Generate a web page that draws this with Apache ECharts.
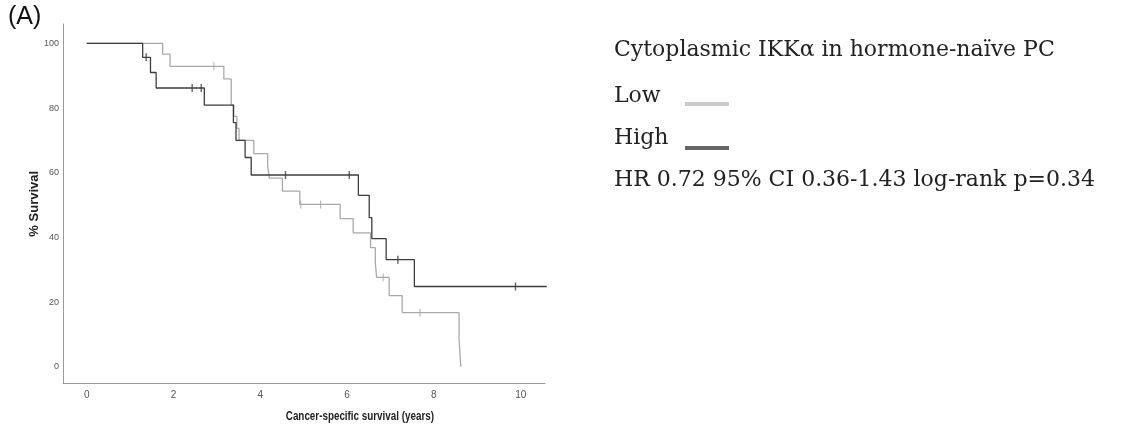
<!DOCTYPE html>
<html>
<head>
<meta charset="utf-8">
<script src="https://cdn.jsdelivr.net/npm/echarts@6/dist/echarts.min.js"></script>
<style>
html,body{margin:0;padding:0;background:#fff;}
#chart{width:1121px;height:433px;}
</style>
</head>
<body>
<div id="chart"></div>
<script>
// ---- Data ----
var highTimes = [0, 1.29, 1.47, 1.60, 2.71, 3.38, 3.44, 3.65, 3.79, 6.26, 6.51, 6.57, 6.90, 7.55, 10.6];
var highSurv  = [100, 95.7, 91.0, 86.2, 80.9, 75.5, 70.0, 64.7, 59.3, 53.0, 46.1, 39.6, 33.1, 24.8, 24.8];
var highCensorTimes = [1.37, 2.43, 2.64, 4.58, 6.05, 7.17, 9.88];
var highCensorSurv  = [95.7, 86.2, 86.2, 59.3, 59.3, 33.1, 24.8];

var lowTimes = [0, 1.75, 1.92, 3.16, 3.33, 3.39, 3.46, 3.51, 3.85, 4.17, 4.21, 4.51, 4.91, 5.84, 6.14, 6.54, 6.65, 6.68, 6.97, 7.27, 8.58, 8.62];
var lowSurv  = [100, 96.7, 92.9, 89.0, 81.0, 77.4, 73.7, 70.0, 65.9, 62.1, 58.3, 54.3, 50.2, 45.8, 41.4, 36.8, 32.3, 27.6, 22.0, 16.7, 8.5, 0];
var lowCensorTimes = [2.93, 4.93, 5.39, 6.83, 7.68];
var lowCensorSurv  = [92.9, 50.2, 50.2, 27.6, 16.7];

var xTicks = [0, 2, 4, 6, 8, 10];
var yTicks = [0, 20, 40, 60, 80, 100];

var legendTitle = 'Cytoplasmic IKK\u03b1 in hormone-na\u00efve PC';
var legendLow = 'Low';
var legendHigh = 'High';
var statsText = 'HR 0.72 95% CI 0.36-1.43 log-rank p=0.34';
var panelLabel = '(A)';
var xTitle = 'Cancer-specific survival (years)';
var yTitle = '% Survival';

function pairs(a, b) { return a.map(function (v, i) { return [v, b[i]]; }); }

var highColor = '#3d3d3d';
var lowColor = '#a9a9a9';
var serif = '"DejaVu Serif", serif';
var sans = '"Liberation Sans", Arial, sans-serif';

var chart = echarts.init(document.getElementById('chart'), null, { renderer: 'canvas' });
chart.setOption({
  animation: false,
  backgroundColor: '#fff',
  grid: { left: 63, top: 24, right: 576, bottom: 49.5, containLabel: false },
  xAxis: {
    type: 'value', min: -0.546, max: 10.56,
    axisLine: { show: true, onZero: false, lineStyle: { color: '#9a9a9a', width: 1 } },
    axisTick: { show: false },
    splitLine: { show: false },
    axisLabel: { customValues: xTicks, margin: 7, fontSize: 10, color: '#555', fontFamily: sans }
  },
  yAxis: {
    type: 'value', min: -5.2, max: 106,
    axisLine: { show: true, onZero: false, lineStyle: { color: '#9a9a9a', width: 1 } },
    axisTick: { show: false },
    splitLine: { show: false },
    axisLabel: { customValues: yTicks, margin: 4, fontSize: 9, color: '#555', fontFamily: sans },
    name: yTitle, nameLocation: 'middle', nameGap: 22, nameRotate: 90, nameMoveOverlap: false,
    nameTextStyle: { fontSize: 13, fontWeight: 'bold', color: '#222', fontFamily: sans }
  },
  series: [
    { name: legendLow, type: 'line', step: 'end', data: pairs(lowTimes, lowSurv), showSymbol: false,
      lineStyle: { color: lowColor, width: 1.3 }, itemStyle: { color: lowColor }, z: 2 },
    { name: legendHigh, type: 'line', step: 'end', data: pairs(highTimes, highSurv), showSymbol: false,
      lineStyle: { color: highColor, width: 1.3 }, itemStyle: { color: highColor }, z: 3 },
    { name: legendLow + ' censored', type: 'scatter', data: pairs(lowCensorTimes, lowCensorSurv),
      symbol: 'rect', symbolSize: [1.2, 8], itemStyle: { color: lowColor }, z: 4 },
    { name: legendHigh + ' censored', type: 'scatter', data: pairs(highCensorTimes, highCensorSurv),
      symbol: 'rect', symbolSize: [1.4, 8], itemStyle: { color: highColor }, z: 5 }
  ],
  graphic: [
    { type: 'text', left: 8, top: 5, style: { text: panelLabel, font: '25px ' + sans, fill: '#111' } },
    { type: 'text', x: 305, y: 417, scaleX: 0.82, originX: 305, originY: 417,
      style: { text: xTitle, font: 'bold 12px ' + sans, fill: '#222', textAlign: 'center', textVerticalAlign: 'middle' } },
    { type: 'text', x: 614, y: 50, style: { text: legendTitle, font: '22px ' + serif, fill: '#222', textVerticalAlign: 'middle' } },
    { type: 'text', x: 614, y: 96, style: { text: legendLow, font: '22px ' + serif, fill: '#222', textVerticalAlign: 'middle' } },
    { type: 'rect', shape: { x: 685, y: 102, width: 44, height: 4 }, style: { fill: '#c9c9c9' } },
    { type: 'text', x: 614, y: 138, style: { text: legendHigh, font: '22px ' + serif, fill: '#222', textVerticalAlign: 'middle' } },
    { type: 'rect', shape: { x: 685, y: 146, width: 44, height: 4 }, style: { fill: '#666666' } },
    { type: 'text', x: 614, y: 180, style: { text: statsText, font: '22px ' + serif, fill: '#222', textVerticalAlign: 'middle' } }
  ]
});
</script>
</body>
</html>
